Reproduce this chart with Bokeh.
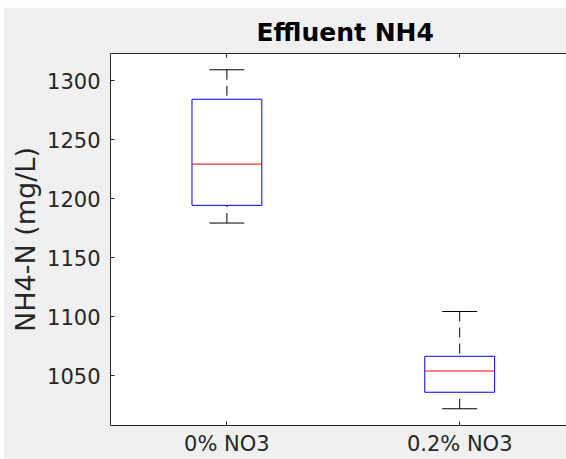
import numpy as np
from bokeh.plotting import figure
from bokeh.models import FixedTicker, LinearAxis, Range1d
from bokeh.embed import file_html
from bokeh.resources import INLINE

# ---- data ----
categories = ["0% NO3", "0.2% NO3"]
positions = [1, 2]
lower_whisker = [1179.5, 1022.0]
q1 = [1194.5, 1036.0]
median = [1229.5, 1054.0]
q3 = [1284.5, 1066.5]
upper_whisker = [1309.5, 1104.5]
y_ticks = [1050, 1100, 1150, 1200, 1250, 1300]

BOX_W = 0.3
CAP_W = 0.15
FONT = "DejaVu Sans"
AX = "#262626"

p = figure(width=563, height=452, output_backend="svg", toolbar_location=None,
           x_range=Range1d(0.5, 2.4588), y_range=Range1d(1007.8, 1323.3),
           min_border_left=107, min_border_top=46, min_border_bottom=34,
           min_border_right=0, margin=(7, 0, 0, 3))
p.border_fill_color = "#f0f0f0"
p.background_fill_color = "white"
p.outline_line_color = None
p.grid.visible = False

# title
p.title.text = "Effluent NH4"
p.title.text_font = FONT
p.title.text_font_size = "25px"
p.title.text_font_style = "bold"
p.title.text_color = "#000000"
p.title.align = "left"
p.title.offset = 146
p.title.standoff = 13

# axes
xa = p.xaxis[0]
xa.ticker = FixedTicker(ticks=positions)
xa.major_label_overrides = {pos: c for pos, c in zip(positions, categories)}
ya = p.yaxis[0]
ya.ticker = FixedTicker(ticks=y_ticks)
ya.axis_label = "NH4-N (mg/L)"
for ax in (xa, ya):
    ax.axis_line_color = AX
    ax.major_tick_line_color = AX
    ax.major_tick_in = 4
    ax.major_tick_out = 0
    ax.minor_tick_line_color = None
    ax.major_label_text_font = FONT
    ax.major_label_text_font_size = "21px"
    ax.major_label_text_color = AX
    ax.major_label_standoff = 10
ya.axis_label_text_font = FONT
ya.axis_label_text_font_size = "27px"
ya.axis_label_text_font_style = "normal"
ya.axis_label_text_color = AX
ya.axis_label_standoff = 3
xa.major_label_standoff = 6

top = LinearAxis(ticker=FixedTicker(ticks=positions))
top.axis_line_color = AX
top.major_tick_line_color = AX
top.major_tick_in = 4
top.major_tick_out = 0
top.minor_tick_line_color = None
top.major_label_text_font_size = "1px"
top.major_label_text_color = None
top.major_label_standoff = 0
p.add_layout(top, "above")

x = np.array(positions, dtype=float)
lw = np.array(lower_whisker); uw = np.array(upper_whisker)
b1 = np.array(q1); b3 = np.array(q3); md = np.array(median)

# whiskers (dashed, from cap toward box)
p.segment(x0=x, y0=uw, x1=x, y1=b3, line_color="black", line_width=1, line_dash="10 6")
p.segment(x0=x, y0=lw, x1=x, y1=b1, line_color="black", line_width=1, line_dash="10 6")
# caps
p.segment(x0=x - CAP_W / 2, y0=uw, x1=x + CAP_W / 2, y1=uw, line_color="black", line_width=1)
p.segment(x0=x - CAP_W / 2, y0=lw, x1=x + CAP_W / 2, y1=lw, line_color="black", line_width=1)
# boxes
p.quad(left=x - BOX_W / 2, right=x + BOX_W / 2, bottom=b1, top=b3,
       fill_color=None, line_color="#0000ff", line_width=1)
# medians
p.segment(x0=x - BOX_W / 2, y0=md, x1=x + BOX_W / 2, y1=md, line_color="#ff0000", line_width=1)

open("out.html", "w").write(file_html(p, INLINE))
